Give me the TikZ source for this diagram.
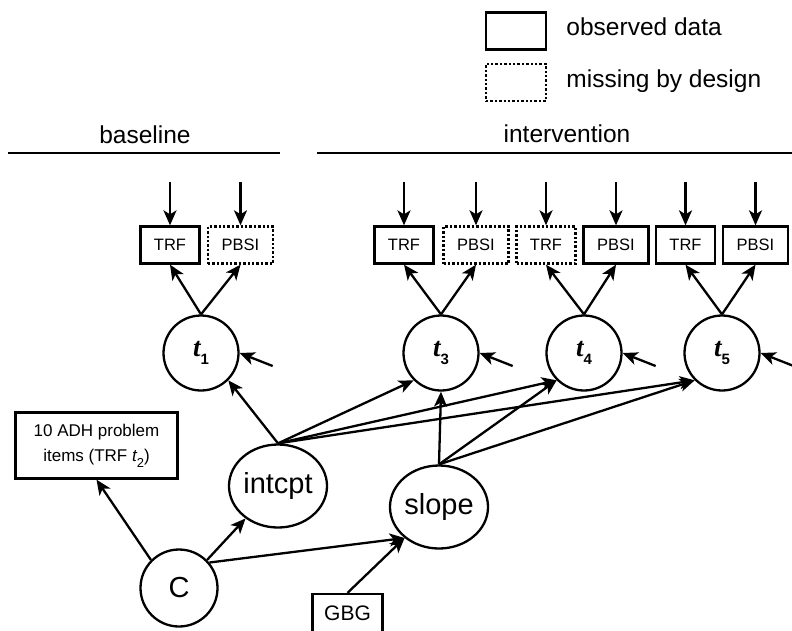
\documentclass[tikz,border=0pt]{standalone}
\usepackage{fontspec}
\setmainfont{Liberation Sans}
\newfontfamily\tserif{Liberation Serif}
\usetikzlibrary{arrows.meta,shapes.geometric}

% time-point label: bold italic t with a bold subscript
\newcommand{\tpoint}[1]{{\tserif\bfseries\itshape t}\raisebox{-0.32em}{\fontsize{15}{15}\selectfont\bfseries #1}}

\begin{document}
\begin{tikzpicture}[x=1pt,y=-1pt,
    line width=2.3pt,
    obs/.style={draw, rectangle, minimum width=59pt, minimum height=37pt, inner sep=0pt, font=\fontsize{16.5}{18}\selectfont},
    mis/.style={obs, dotted, line width=2.4pt},
    wide/.style={minimum width=65pt},
    lat/.style={draw, circle, minimum size=75pt, inner sep=0pt, font=\fontsize{27}{28}\selectfont},
    fac/.style={draw, ellipse, minimum width=94pt, minimum height=83pt, inner sep=0pt, font=\fontsize{29}{30}\selectfont},
    hdr/.style={font=\fontsize{24.5}{26}\selectfont},
    arr/.style={-{Stealth[length=15pt,width=13pt,inset=4pt]}}
  ]
  \useasboundingbox (0,0) rectangle (792,630);

  % key
  \node[obs, minimum width=60pt] (keyobs) at (516,31) {};
  \node[mis, minimum width=60pt] (keymis) at (516,82.5) {};
  \node[hdr, anchor=base west] at (562,35) {observed data};
  \node[hdr, anchor=base west] at (562,87.5) {missing by design};

  % phases
  \node[hdr, anchor=base] at (145,143) {baseline};
  \node[hdr, anchor=base] at (567,142) {intervention};
  \draw[line width=2.8pt] (8,153) -- (280,153);
  \draw[line width=2.8pt] (317,153) -- (792,153);

  % indicators
  \node[obs] (trf1) at (170,245) {TRF};
  \node[mis, wide] (pbsi1) at (240.5,245) {PBSI};
  \node[obs] (trf3) at (404,245) {TRF};
  \node[mis, wide] (pbsi3) at (476,245) {PBSI};
  \node[mis] (trf4) at (546,245) {TRF};
  \node[obs, wide] (pbsi4) at (616,245) {PBSI};
  \node[obs] (trf5) at (685.5,245) {TRF};
  \node[obs, wide] (pbsi5) at (755.5,245) {PBSI};

  % occasions
  \node[lat] (t1) at (201,353) {\tpoint{1}};
  \node[lat] (t3) at (441,353) {\tpoint{3}};
  \node[lat] (t4) at (584,353) {\tpoint{4}};
  \node[lat] (t5) at (722,353) {\tpoint{5}};

  % growth factors and covariates
  \node[fac] (intcpt) at (278,486) {intcpt};
  \node[fac, minimum width=96pt] (slope) at (439,507) {slope};
  \node[draw, circle, minimum size=77pt, inner sep=0pt, font=\fontsize{29}{30}\selectfont] (C) at (179,588) {C};
  \node[draw, rectangle, minimum width=162pt, minimum height=66pt, align=center,
        font=\fontsize{17}{25}\selectfont] (adh) at (96.5,445.5) {10 ADH problem\\items (TRF {\itshape t}\raisebox{-0.35em}{\fontsize{13}{13}\selectfont 2})};
  \node[draw, rectangle, minimum width=70pt, minimum height=38pt, inner sep=0pt,
        font=\fontsize{21}{22}\selectfont] (gbg) at (347.5,613) {GBG};

  % residuals into indicators and occasions
  \foreach \b in {trf1,pbsi1,trf3,pbsi3,trf4,pbsi4,trf5,pbsi5} {
    \coordinate (in\b) at ([yshift=43pt]\b.north);
    \draw[arr] (in\b) -- (\b.north);
  }
  \foreach \t in {t1,t3,t4,t5} {
    \coordinate (e\t) at ([shift={(33pt,-13pt)}]\t.east);
    \draw[arr] (e\t) -- (\t.east);
  }

  % loadings
  \foreach \n in {1,3,4,5} {
    \draw[arr] (t\n.north) -- (trf\n.south);
    \draw[arr] (t\n.north) -- (pbsi\n.south);
  }

  % growth paths
  \draw[arr] (intcpt.north) -- (t1.-45);
  \foreach \t in {t3,t4,t5}
    \draw[arr] (intcpt.north) -- (\t.225);
  \draw[arr] (slope.north) -- (t3.south);
  \draw[arr] (slope.north) -- (t4.225);
  \draw[arr] (slope.north) -- (t5.225);

  % covariate paths
  \draw[arr] (C.135) -- (adh.south);
  \draw[arr] (C.45) -- (intcpt.225);
  \draw[arr] (C.40) -- (slope.222);
  \draw[arr] (gbg.north) -- (slope.222);
\end{tikzpicture}
\end{document}
